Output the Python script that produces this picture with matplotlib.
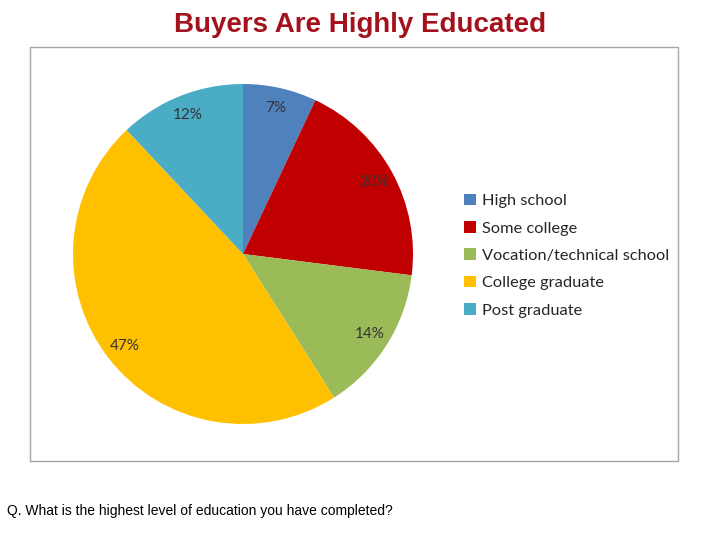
import matplotlib.pyplot as plt
from matplotlib.patches import Rectangle, Patch

# education levels and shares (%)
labels = ["High school", "Some college", "Vocation/technical school",
          "College graduate", "Post graduate"]
shares = [7, 20, 14, 47, 12]
colors = ["#4F81BD", "#C00000", "#9BBB59", "#FFC000", "#4BACC6"]

W, H = 720, 540
fig = plt.figure(figsize=(7.2, 5.4), dpi=100)

# chart frame
fig.patches.append(Rectangle((30 / W, 1 - 461 / H), 648 / W, 414 / H,
                             transform=fig.transFigure, fill=False,
                             edgecolor="#A6A6A6", linewidth=1.0))

# pie: centre (243,254), radius 170 px
cx, cy, r = 243, 254, 170
ax = fig.add_axes([(cx - r) / W, 1 - (cy + r) / H, 2 * r / W, 2 * r / H])
wedges, texts, autotexts = ax.pie(
    shares, colors=colors, startangle=90, counterclock=False,
    autopct="%d%%", pctdistance=0.88, radius=1,
    wedgeprops=dict(linewidth=0),
    textprops=dict(fontsize=11, color="#333333", family="Lato"))
ax.set_xlim(-1, 1)
ax.set_ylim(-1, 1)
ax.set_aspect("equal")
ax.axis("off")

handles = [Patch(facecolor=c, edgecolor="none") for c in colors]
fig.legend(handles, labels, loc="upper left",
           bbox_to_anchor=(449 / W, 1 - 179 / H), frameon=False,
           handlelength=0.72, handleheight=0.72, handletextpad=0.4,
           labelspacing=0.78, prop=dict(family="Lato", size=11.8),
           labelcolor="#262626")

fig.text(360 / W, 1 - 25 / H, "Buyers Are Highly Educated", ha="center",
         va="center", fontsize=20, fontweight="bold", color="#A3121C",
         family="Liberation Sans")
fig.text(7 / W, 1 - 511 / H,
         "Q. What is the highest level of education you have completed?",
         ha="left", va="center", fontsize=10, color="black",
         family="Liberation Sans")

fig.savefig("out.png", dpi=100)
